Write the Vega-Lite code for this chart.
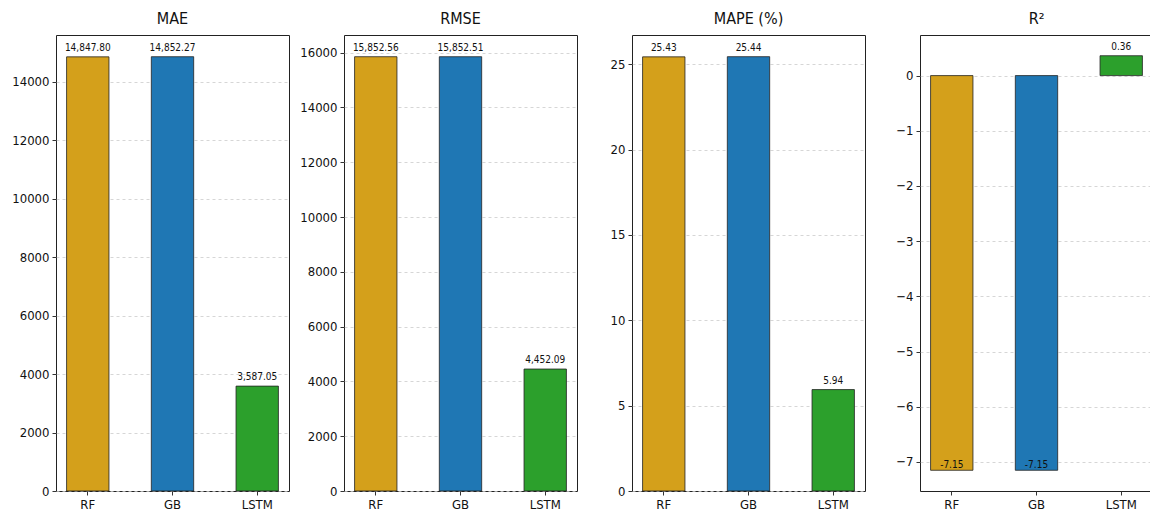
{
  "$schema": "https://vega.github.io/schema/vega-lite/v6.json",
  "background": "white",
  "padding": {"left": 11, "top": 10, "right": 0, "bottom": 0},
  "bounds": "flush",
  "spacing": 55,
  "datasets": {
    "metrics": [
      {"metric": "MAE", "model": "RF", "value": 14847.80, "label": "14,847.80"},
      {"metric": "MAE", "model": "GB", "value": 14852.27, "label": "14,852.27"},
      {"metric": "MAE", "model": "LSTM", "value": 3587.05, "label": "3,587.05"},
      {"metric": "RMSE", "model": "RF", "value": 15852.56, "label": "15,852.56"},
      {"metric": "RMSE", "model": "GB", "value": 15852.51, "label": "15,852.51"},
      {"metric": "RMSE", "model": "LSTM", "value": 4452.09, "label": "4,452.09"},
      {"metric": "MAPE", "model": "RF", "value": 25.43, "label": "25.43"},
      {"metric": "MAPE", "model": "GB", "value": 25.44, "label": "25.44"},
      {"metric": "MAPE", "model": "LSTM", "value": 5.94, "label": "5.94"},
      {"metric": "R2", "model": "RF", "value": -7.15, "label": "-7.15"},
      {"metric": "R2", "model": "GB", "value": -7.15, "label": "-7.15"},
      {"metric": "R2", "model": "LSTM", "value": 0.36, "label": "0.36"}
    ]
  },
  "config": {
    "font": "DejaVu Sans Condensed, Liberation Sans Narrow, sans-serif",
    "view": {"stroke": "#222", "strokeWidth": 1},
    "title": {"fontSize": 16, "fontWeight": "normal", "color": "#111", "offset": 8, "font": "DejaVu Sans Condensed, Liberation Sans Narrow, sans-serif"},
    "axis": {
      "domain": false,
      "tickColor": "#333",
      "tickSize": 4,
      "labelFontSize": 13,
      "labelColor": "#111",
      "labelPadding": 3,
      "labelFont": "DejaVu Sans Condensed, Liberation Sans Narrow, sans-serif",
      "gridColor": "#cccccc",
      "gridDash": [3, 3],
      "gridWidth": 0.8
    },
    "axisX": {"grid": false, "labelAngle": 0, "title": null},
    "axisY": {"title": null}
  },
  "hconcat": [
    {
      "width": 233, "height": 456,
      "title": "MAE",
      "data": {"name": "metrics"},
      "transform": [{"filter": "datum.metric === 'MAE'"}],
      "encoding": {
        "x": {"field": "model", "type": "nominal", "sort": ["RF", "GB", "LSTM"], "scale": {"paddingInner": 0.5, "paddingOuter": 0.125}},
        "y": {"field": "value", "type": "quantitative", "scale": {"domain": [0, 15595], "nice": false}, "axis": {"values": [0, 2000, 4000, 6000, 8000, 10000, 12000, 14000], "format": "d"}}
      },
      "layer": [
        {"mark": {"type": "bar", "stroke": "#222", "strokeWidth": 0.8},
         "encoding": {"color": {"field": "model", "type": "nominal", "scale": {"domain": ["RF", "GB", "LSTM"], "range": ["#d4a01b", "#1f77b4", "#2ca02c"]}, "legend": null}}},
        {"mark": {"type": "text", "baseline": "bottom", "dy": -4, "fontSize": 10, "color": "#111"},
         "encoding": {"text": {"field": "label"}}}
      ]
    },
    {
      "width": 233, "height": 456,
      "title": "RMSE",
      "data": {"name": "metrics"},
      "transform": [{"filter": "datum.metric === 'RMSE'"}],
      "encoding": {
        "x": {"field": "model", "type": "nominal", "sort": ["RF", "GB", "LSTM"], "scale": {"paddingInner": 0.5, "paddingOuter": 0.125}},
        "y": {"field": "value", "type": "quantitative", "scale": {"domain": [0, 16645], "nice": false}, "axis": {"values": [0, 2000, 4000, 6000, 8000, 10000, 12000, 14000, 16000], "format": "d"}}
      },
      "layer": [
        {"mark": {"type": "bar", "stroke": "#222", "strokeWidth": 0.8},
         "encoding": {"color": {"field": "model", "type": "nominal", "scale": {"domain": ["RF", "GB", "LSTM"], "range": ["#d4a01b", "#1f77b4", "#2ca02c"]}, "legend": null}}},
        {"mark": {"type": "text", "baseline": "bottom", "dy": -4, "fontSize": 10, "color": "#111"},
         "encoding": {"text": {"field": "label"}}}
      ]
    },
    {
      "width": 233, "height": 456,
      "title": "MAPE (%)",
      "data": {"name": "metrics"},
      "transform": [{"filter": "datum.metric === 'MAPE'"}],
      "encoding": {
        "x": {"field": "model", "type": "nominal", "sort": ["RF", "GB", "LSTM"], "scale": {"paddingInner": 0.5, "paddingOuter": 0.125}},
        "y": {"field": "value", "type": "quantitative", "scale": {"domain": [0, 26.71], "nice": false}, "axis": {"values": [0, 5, 10, 15, 20, 25], "format": "d"}}
      },
      "layer": [
        {"mark": {"type": "bar", "stroke": "#222", "strokeWidth": 0.8},
         "encoding": {"color": {"field": "model", "type": "nominal", "scale": {"domain": ["RF", "GB", "LSTM"], "range": ["#d4a01b", "#1f77b4", "#2ca02c"]}, "legend": null}}},
        {"mark": {"type": "text", "baseline": "bottom", "dy": -4, "fontSize": 10, "color": "#111"},
         "encoding": {"text": {"field": "label"}}}
      ]
    },
    {
      "width": 233, "height": 456,
      "title": "R²",
      "data": {"name": "metrics"},
      "transform": [{"filter": "datum.metric === 'R2'"}],
      "encoding": {
        "x": {"field": "model", "type": "nominal", "sort": ["RF", "GB", "LSTM"], "scale": {"paddingInner": 0.5, "paddingOuter": 0.125}},
        "y": {"field": "value", "type": "quantitative", "scale": {"domain": [-7.5255, 0.7355], "nice": false, "zero": false}, "axis": {"values": [-7, -6, -5, -4, -3, -2, -1, 0], "format": "d"}}
      },
      "layer": [
        {"mark": {"type": "bar", "stroke": "#222", "strokeWidth": 0.8},
         "encoding": {"color": {"field": "model", "type": "nominal", "scale": {"domain": ["RF", "GB", "LSTM"], "range": ["#d4a01b", "#1f77b4", "#2ca02c"]}, "legend": null}}},
        {"transform": [{"filter": "datum.value >= 0"}],
         "mark": {"type": "text", "baseline": "bottom", "dy": -4, "fontSize": 10, "color": "#111"},
         "encoding": {"text": {"field": "label"}}},
        {"transform": [{"filter": "datum.value < 0"}],
         "mark": {"type": "text", "baseline": "bottom", "dy": 0, "fontSize": 10, "color": "#111"},
         "encoding": {"text": {"field": "label"}}}
      ]
    }
  ]
}
